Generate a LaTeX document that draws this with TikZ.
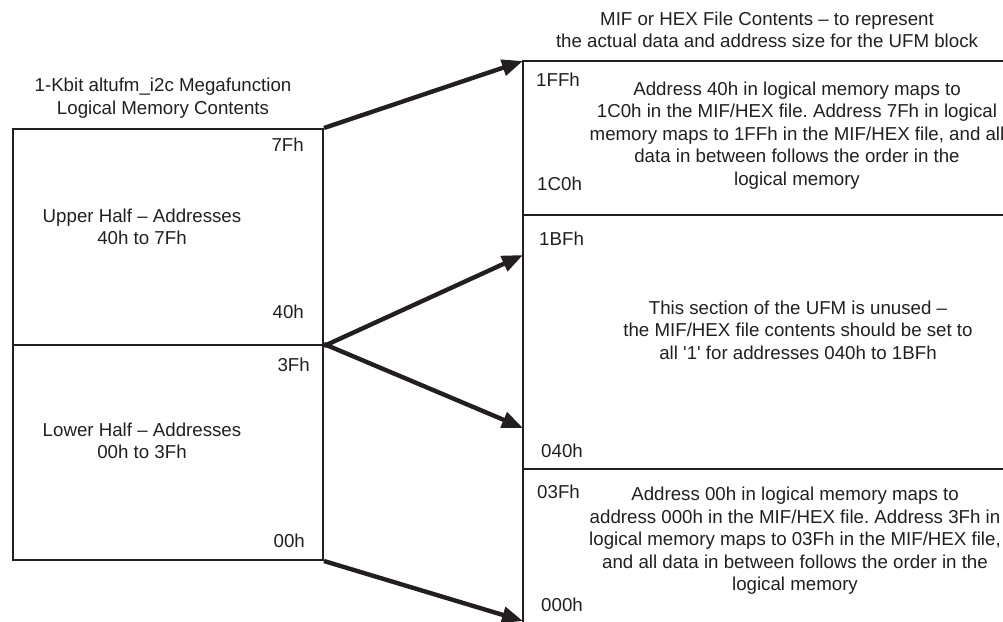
\documentclass[tikz,border=0pt]{standalone}
\usepackage{fontspec}
\setmainfont{Liberation Sans}
\usetikzlibrary{arrows.meta}
\definecolor{ink}{HTML}{231F20}
\frenchspacing
\begin{document}
\begin{tikzpicture}[x=1pt,y=1pt,
  txt/.style={font=\fontsize{18.7}{22.5}\selectfont, text=ink, align=center, inner sep=0pt},
  membox/.style={draw=ink, line width=2pt, anchor=north west, inner sep=0pt},
  edge/.style={draw=ink, line width=2pt},
  maparrow/.style={draw=ink, line width=4.4pt, -{Triangle[length=21pt,width=16pt]}, fill=ink}]
\useasboundingbox (0,0) rectangle (1003,-621);
% left memory
\node[membox, minimum width=310pt, minimum height=216pt] (upper) at (12,-128) {};
\node[membox, minimum width=310pt, minimum height=215pt] (lower) at (12,-344) {};
% right memory (open on right and bottom)
\coordinate (r1) at (523,-61);
\coordinate (r2) at (523,-215);
\coordinate (r3) at (523,-469);
\coordinate (rb) at (523,-640);
\coordinate (e1) at (1010,-61);
\coordinate (e2) at (1010,-215);
\coordinate (e3) at (1010,-469);
\draw[edge] (e1) -- (r1) -- (rb);
\draw[edge] (r2) -- (e2);
\draw[edge] (r3) -- (e3);
% arrow targets
\coordinate (t1) at (523,-61);
\coordinate (t2) at (523,-255);
\coordinate (t3) at (523,-428);
\coordinate (t4) at (523,-621);
\draw[maparrow] (upper.north east) -- (t1);
\draw[maparrow] (upper.south east) -- (t2);
\draw[maparrow] (lower.north east) -- (t3);
\draw[maparrow] (lower.south east) -- (t4);
% titles
\node[txt] (ltitle) at (163,-98) {1-Kbit altufm\_i2c Megafunction\\Logical Memory Contents};
\node[txt] (rtitle) at (767,-30) {MIF or HEX File Contents -- to represent\\the actual data and address size for the UFM block};
% left labels
\node[txt, anchor=east] (a7f) at (304,-145) {7Fh};
\node[txt] (uptext) at (142,-227) {Upper Half -- Addresses\\40h to 7Fh};
\node[txt, anchor=east] (a40) at (304,-312) {40h};
\node[txt, anchor=east] (a3f) at (310,-365) {3Fh};
\node[txt] (lowtext) at (142,-441) {Lower Half -- Addresses\\00h to 3Fh};
\node[txt, anchor=east] (a00) at (305,-541) {00h};
% right labels
\node[txt, anchor=west] (b1ff) at (536,-80) {1FFh};
\node[txt, anchor=west] (b1c0) at (537,-184) {1C0h};
\node[txt, anchor=west] (b1bf) at (539,-239) {1BFh};
\node[txt, anchor=west] (b040) at (541,-451) {040h};
\node[txt, anchor=west] (b03f) at (537,-492) {03Fh};
\node[txt, anchor=west] (b000) at (541,-605) {000h};
\node[txt] (blk1) at (797,-135.5) {Address 40h in logical memory maps to\\1C0h in the MIF/HEX file. Address 7Fh in logical\\memory maps to 1FFh in the MIF/HEX file, and all\\data in between follows the order in the\\logical memory};
\node[txt] (blk2) at (798,-330) {This section of the UFM is unused --\\the MIF/HEX file contents should be set to\\all \textquotesingle 1\textquotesingle{} for addresses 040h to 1BFh};
\node[txt] (blk3) at (795,-541) {Address 00h in logical memory maps to\\address 000h in the MIF/HEX file. Address 3Fh in\\logical memory maps to 03Fh in the MIF/HEX file,\\and all data in between follows the order in the\\logical memory};
\end{tikzpicture}
\end{document}
